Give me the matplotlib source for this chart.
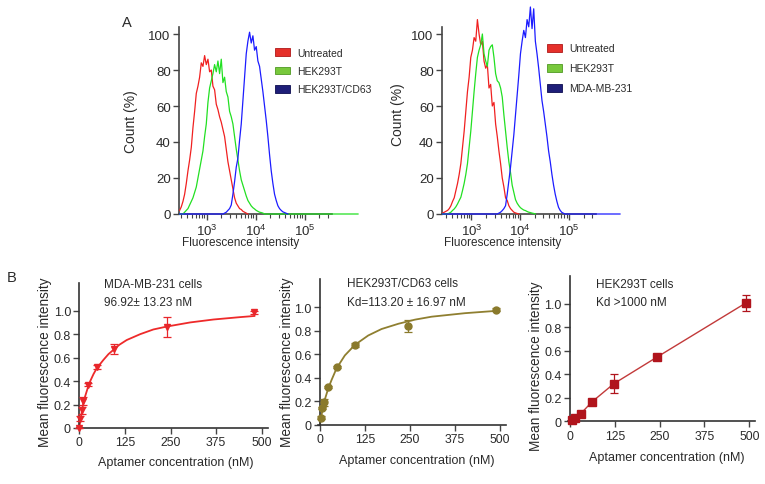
import numpy as np
import matplotlib
matplotlib.use("Agg")
import matplotlib.pyplot as plt
from matplotlib.patches import Patch
from matplotlib.ticker import FixedLocator, NullFormatter

plt.rcParams['font.family'] = ['Liberation Sans', 'DejaVu Sans']
plt.rcParams['mathtext.fontset'] = 'custom'
plt.rcParams['mathtext.rm'] = 'Liberation Sans'
plt.rcParams['mathtext.it'] = 'Liberation Sans:italic'
plt.rcParams['text.color'] = '#2a2a2a'
plt.rcParams['xtick.color'] = '#444444'
plt.rcParams['ytick.color'] = '#444444'
plt.rcParams['xtick.labelcolor'] = '#2a2a2a'
plt.rcParams['ytick.labelcolor'] = '#2a2a2a'

# ---- panel A: flow cytometry histograms (log10 intensity bins) ----
hist_step = 0.034
left_start = 2.448
right_start = 2.408

untreated_L = [2, 4, 7, 11, 17, 24, 30, 37, 48, 57, 67, 71, 76, 84, 82, 88, 83, 86, 79, 80,
               71, 69, 61, 58, 54, 51, 47, 43, 36, 29, 24, 19, 14, 9, 6, 4.5, 3, 2.5, 1.5, 1, 0.5, 0]
hek_L = [0, 0, 0, 1, 2, 3, 5, 7, 9, 12, 15, 20, 25, 30, 35, 43, 50, 62, 70, 74,
         78, 83, 79, 85, 78, 86, 73, 76, 68, 65, 57, 54, 50, 43, 36, 30, 24, 19, 16, 13,
         10, 7.5, 6, 4.5, 3.5, 2.8, 2, 1.5, 1, 0.8, 0.5, 0]
cd63_L = [0] * 27 + [0.5, 1, 2, 3, 5, 11, 18, 26, 31, 41, 50, 63, 76, 89, 96, 101, 95, 99, 91, 93,
                     85, 82, 75, 68, 60, 52, 43, 33, 24, 17, 11, 7.5, 4.6, 3, 2, 1.2, 0.8, 0.4, 0]

untreated_R = [0.5, 1, 1.5, 2, 3, 4.6, 7, 9, 13, 17, 22, 28, 37, 46, 57, 68, 76, 87, 91, 98,
               96, 108, 100, 94, 96, 85, 81, 83, 70, 72, 60, 62, 50, 43, 35, 28, 20, 15, 9, 7.5,
               4.6, 3, 2, 1, 0.6, 0.3, 0]
hek_R = [0, 0, 0, 0, 0.5, 1, 2, 2.8, 4, 5.6, 7.5, 9.3, 13, 17, 22, 28, 37, 46, 57, 68,
         78, 87, 91, 94, 100, 89, 85, 82, 91, 93, 94, 87, 78, 74, 73, 70, 65, 55, 46, 37,
         29, 23, 16, 12, 8, 6, 4.6, 3.5, 2.8, 2.2, 1.9, 1.4, 1, 0.8, 0.5, 0.3, 0]
mda_R = [0] * 34 + [0.5, 1, 1.9, 3, 4.6, 11, 18.5, 26, 35, 44, 55, 66, 77, 89, 96, 102, 98, 108, 104, 115,
                    103, 114, 96, 89, 81, 72, 63, 57, 50, 43, 35, 29, 22, 16, 11, 7, 3.7, 2, 0.9, 0.4, 0]

# ---- panel B: binding curves ----
mda_x = [0, 3, 6.5, 11, 24, 48, 96, 240, 480]
mda_y = [0.0, 0.08, 0.15, 0.23, 0.37, 0.52, 0.675, 0.865, 0.985]
mda_err = [0.0, 0.02, 0.03, 0.035, 0.015, 0.015, 0.045, 0.085, 0.01]
mda_fit_x = [0, 1.7, 3, 6.4, 11, 15, 23, 30, 39, 48, 66, 80, 95, 110, 130, 167, 203, 240, 304, 368, 440, 480]
mda_fit_y = [0, 0.04, 0.07, 0.13, 0.21, 0.26, 0.34, 0.40, 0.46, 0.51, 0.58, 0.63, 0.67, 0.71, 0.75,
             0.80, 0.84, 0.865, 0.90, 0.925, 0.945, 0.955]

cd63_x = [3, 5.5, 11, 23, 46, 97, 245, 490]
cd63_y = [0.06, 0.14, 0.19, 0.32, 0.49, 0.68, 0.84, 0.98]
cd63_err = [0.01, 0.01, 0.03, 0.01, 0.01, 0.015, 0.05, 0.01]
cd63_fit_x = [0, 3, 6.5, 12, 23, 32, 46, 69, 97, 134, 171, 218, 264, 310, 403, 491]
cd63_fit_y = [0, 0.06, 0.12, 0.2, 0.31, 0.38, 0.48, 0.59, 0.68, 0.76, 0.815, 0.86, 0.895, 0.92, 0.95, 0.97]

hek_x = [6.5, 14, 30, 61, 122, 244, 491]
hek_y = [0.015, 0.03, 0.065, 0.165, 0.32, 0.55, 1.01]
hek_err = [0.01, 0.01, 0.01, 0.01, 0.08, 0.01, 0.07]

W, H = 765, 485
fig = plt.figure(figsize=(W / 100, H / 100), dpi=100)


def px_box(left, bottom, right, top):
    return [left / W, 1 - bottom / H, (right - left) / W, (bottom - top) / H]


def hist_panel(box, start, xmax, series, labels, legend_anchor, legend_gap):
    ax = fig.add_axes(box)
    for vals, col, tail in series:
        x = 10 ** (start + hist_step * np.arange(len(vals)))
        y = np.array(vals, dtype=float)
        if tail:
            x = np.append(x, xmax)
            y = np.append(y, 0)
        ax.plot(x, y, color=col, lw=0.9, zorder=3, clip_on=False)
    ax.set_xscale('log')
    ax.set_xlim(10 ** (start - 0.013), xmax)
    ax.set_ylim(0, 119)
    ax.set_yticks([0, 20, 40, 60, 80, 100])
    ax.set_xticks([1e3, 1e4, 1e5])
    ax.set_xticklabels(['$10^3$', '$10^4$', '$10^5$'])
    minors = [m * d for d in (100, 1000, 10000) for m in range(2, 10)] + [2e5, 3e5]
    minors = [m for m in minors if m > 10 ** (start - 0.013)]
    ax.xaxis.set_minor_locator(FixedLocator(minors))
    ax.xaxis.set_minor_formatter(NullFormatter())
    for s in ('top', 'right'):
        ax.spines[s].set_visible(False)
    for s in ('left', 'bottom'):
        ax.spines[s].set_color('#444444')
        ax.spines[s].set_linewidth(1.2)
    ax.spines['left'].set_bounds(0, 104)
    ax.spines['bottom'].set_bounds(10 ** (start - 0.013), 10 ** 5.55)
    ax.tick_params(axis='both', which='major', direction='out', length=4, width=1, labelsize=9.5, pad=2)
    ax.tick_params(axis='x', which='minor', direction='out', length=3, width=0.8)
    handles = [Patch(facecolor=fc, edgecolor=ec, lw=0.6) for fc, ec in labels[1]]
    ax.legend(handles, labels[0], loc='upper left', bbox_to_anchor=legend_anchor, frameon=False,
              fontsize=7.5, handlelength=1.45, handleheight=0.8, handletextpad=0.7,
              labelspacing=legend_gap, borderpad=0, borderaxespad=0)
    return ax


leg_cols = [('#e5302a', '#b01818'), ('#78c83c', '#4f9a22'), ('#1e1e78', '#0c0c50')]
hist_panel(px_box(179, 215, 358, 0.8), left_start, 10 ** 6.09,
           [(untreated_L, '#f02020', False), (hek_L, '#22e022', True), (cd63_L, '#1c1cff', False)],
           (['Untreated', 'HEK293T', 'HEK293T/CD63'], leg_cols), (0.536, 0.776), 0.8)
hist_panel(px_box(442, 215, 620, 0.8), right_start, 10 ** 6.05,
           [(untreated_R, '#f02020', False), (hek_R, '#22e022', False), (mda_R, '#1c1cff', True)],
           (['Untreated', 'HEK293T', 'MDA-MB-231'], leg_cols), (0.588, 0.797), 0.97)

for cx, cy in [(131, 121.7), (397.5, 115)]:
    fig.text(cx / W, 1 - cy / H, 'Count (%)', rotation=90, ha='center', va='center', fontsize=10)
for cx in [241, 503]:
    fig.text(cx / W, 1 - 243 / H, 'Fluorescence intensity', ha='center', va='center', fontsize=8.5)


def bind_panel(zero_px, px_per_nm, bottom, top_one, pts, fit, style, notes, note_x, note_y):
    left = zero_px - 5 * px_per_nm
    right = zero_px + 516 * px_per_nm
    per_unit = bottom - top_one
    top = bottom - 1.24 * per_unit
    ax = fig.add_axes(px_box(left, bottom, right, top))
    col, lcol, marker, ms = style
    if fit is not None:
        ax.plot(fit[0], fit[1], color=lcol, lw=1.3, zorder=2, clip_on=False)
    else:
        ax.plot(pts[0], pts[1], color=lcol, lw=1.0, zorder=2, clip_on=False)
    ax.errorbar(pts[0], pts[1], yerr=pts[2], fmt=marker, color=col, ms=ms, ecolor=col,
                elinewidth=0.9, capsize=3, capthick=0.9, zorder=3, clip_on=False)
    ax.set_xlim(-5, 516)
    ax.set_ylim(0, 1.24)
    ax.set_xticks([0, 125, 250, 375, 500])
    ax.set_yticks([0, 0.2, 0.4, 0.6, 0.8, 1.0])
    ax.set_yticklabels(['0', '0.2', '0.4', '0.6', '0.8', '1.0'])
    for s in ('top', 'right'):
        ax.spines[s].set_visible(False)
    for s in ('left', 'bottom'):
        ax.spines[s].set_color('#333333')
        ax.spines[s].set_linewidth(1.2)
    ax.spines['left'].set_position(('data', 0))
    ax.tick_params(axis='both', direction='out', length=4, width=1, pad=2)
    ax.tick_params(axis='x', labelsize=8.8)
    ax.tick_params(axis='y', labelsize=9)
    ax.text(note_x, note_y[0], notes[0], fontsize=8.5, va='center', ha='left')
    ax.text(note_x, note_y[1], notes[1], fontsize=8.5, va='center', ha='left')
    return ax


bind_panel(79.3, 0.3648, 429, 311.7, (mda_x, mda_y, mda_err), (mda_fit_x, mda_fit_y),
           ('#e8262b', '#ee2a2a', 'v', 5), ('MDA-MB-231 cells', '96.92\u00b1 13.23 nM'),
           67.7, (1.228, 1.074))
bind_panel(320, 0.36, 425.7, 308.3, (cd63_x, cd63_y, cd63_err), (cd63_fit_x, cd63_fit_y),
           ('#8a7a2c', '#8f7f30', 'o', 5), ('HEK293T/CD63 cells', 'Kd=113.20 \u00b1 16.97 nM'),
           74, (1.207, 1.045))
bind_panel(570, 0.3586, 422.3, 305, (hek_x, hek_y, hek_err), None,
           ('#b0141c', '#c23a3a', 's', 5.5), ('HEK293T cells', 'Kd >1000 nM'),
           72.5, (1.17, 1.016))

for cx, cy in [(45.5, 362), (287, 362.5), (536, 366.7)]:
    fig.text(cx / W, 1 - cy / H, 'Mean fluorescence intensity', rotation=90,
             ha='center', va='center', fontsize=9.8)
for cx, cy in [(176, 463), (416.7, 460.7), (666.7, 458.3)]:
    fig.text(cx / W, 1 - cy / H, 'Aptamer concentration (nM)', ha='center', va='center', fontsize=9)

fig.text(127 / W, 1 - 23 / H, 'A', ha='center', va='center', fontsize=10.5)
fig.text(12 / W, 1 - 278 / H, 'B', ha='center', va='center', fontsize=10.5)

fig.savefig('out.png', dpi=100)
